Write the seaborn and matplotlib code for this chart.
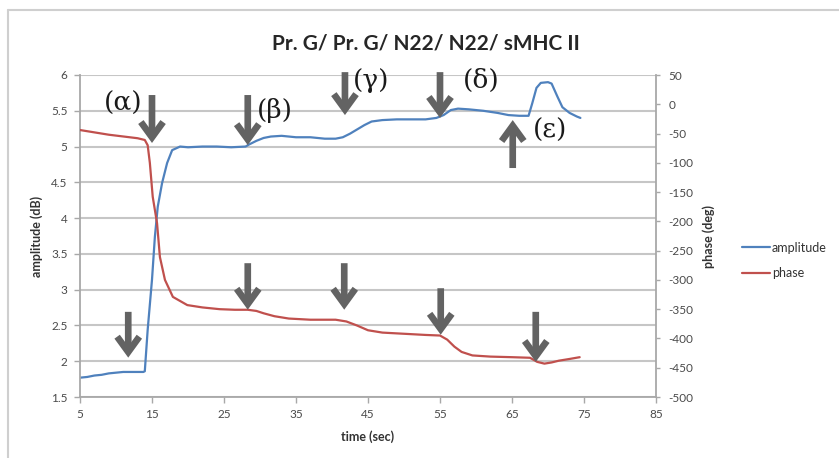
import matplotlib
matplotlib.use("Agg")
import matplotlib.pyplot as plt
from matplotlib.lines import Line2D
import seaborn as sns
import pandas as pd

# ---------------- data ----------------
title = "Pr. G/ Pr. G/ N22/ N22/ sMHC II"

time_amp = [5.0, 6.0, 7.0, 8.0, 9.0, 10.0, 11.0, 12.0, 13.0, 13.8, 14.0, 14.4, 15.0, 15.4,
            15.8, 16.4, 17.1, 17.8, 18.9, 20.0, 22.0, 24.0, 26.0, 28.0, 28.5, 29.5, 30.5,
            31.5, 33.0, 35.0, 37.0, 39.0, 40.5, 41.5, 42.5, 43.5, 44.5, 45.5, 47.0, 49.0,
            51.0, 53.0, 54.5, 55.5, 56.5, 57.5, 59.0, 61.0, 63.0, 64.5, 66.0, 67.3, 67.8,
            68.4, 69.0, 70.0, 70.5, 71.3, 72.0, 73.0, 74.0, 74.5]
amplitude = [1.77, 1.78, 1.80, 1.81, 1.83, 1.84, 1.85, 1.85, 1.85, 1.85, 1.86, 2.44, 3.14, 3.74,
             4.16, 4.49, 4.77, 4.95, 5.00, 4.99, 5.00, 5.00, 4.99, 5.00, 5.03, 5.08, 5.12,
             5.14, 5.15, 5.13, 5.13, 5.11, 5.11, 5.13, 5.18, 5.24, 5.30, 5.35, 5.37, 5.38,
             5.38, 5.38, 5.40, 5.44, 5.51, 5.53, 5.52, 5.50, 5.47, 5.44, 5.43, 5.43, 5.60,
             5.82, 5.89, 5.90, 5.88, 5.70, 5.55, 5.47, 5.42, 5.40]

time_phase = [5.0, 7.0, 9.0, 11.0, 13.0, 14.0, 14.4, 14.7, 15.1, 15.7, 16.1, 16.8, 17.9, 19.9,
              22.0, 24.4, 26.5, 28.3, 29.5, 30.5, 32.0, 34.0, 37.0, 40.5, 42.0, 43.5, 45.0,
              47.0, 50.0, 53.0, 55.0, 56.0, 57.0, 58.0, 59.5, 62.0, 65.0, 67.5, 68.5, 69.5,
              70.5, 71.5, 73.0, 74.4]
phase = [-44, -48, -52, -55, -58, -61, -70, -100, -158, -203, -261, -300, -329, -343,
         -347, -350, -351, -351, -353, -357, -362, -366, -368, -368, -371, -378, -386,
         -390, -392, -394, -395, -402, -414, -423, -429, -431, -432, -433, -440, -443,
         -441, -438, -435, -432]

x_ticks = [5, 15, 25, 35, 45, 55, 65, 75, 85]
amp_ticks = [1.5, 2, 2.5, 3, 3.5, 4, 4.5, 5, 5.5, 6]
amp_tick_labels = ["1.5", "2", "2.5", "3", "3.5", "4", "4.5", "5", "5.5", "6"]
phase_ticks = [-500, -450, -400, -350, -300, -250, -200, -150, -100, -50, 0, 50]

# arrow annotations (time, amplitude-axis units): tail -> tip
arrow_time = [15.0, 28.3, 41.8, 55.0, 65.1, 11.7, 28.3, 41.7, 55.1, 68.3]
arrow_tail = [5.72, 5.72, 6.04, 6.04, 4.70, 2.69, 3.37, 3.37, 3.02, 2.69]
arrow_tip = [5.05, 5.02, 5.44, 5.40, 5.37, 2.05, 2.72, 2.72, 2.37, 1.99]

# step labels
step_labels = ["(α)", "(β)", "(γ)", "(δ)", "(ε)"]
step_time = [11.0, 32.1, 45.4, 60.7, 70.3]
step_amp = [5.61, 5.50, 5.93, 5.92, 5.23]

# ---------------- style ----------------
sns.set_style("white")
plt.rcParams["font.family"] = ["Lato", "DejaVu Sans"]

blue = "#4F81BD"
red = "#C0504D"
grid_c = "#c6c6c6"
axis_c = "#a8a8a8"
tick_txt = "#4a4a4a"
arrow_c = "#636363"

fig = plt.figure(figsize=(8.39, 4.58), dpi=100)
ax = fig.add_axes([80 / 839, 61 / 458, 576 / 839, 322 / 458])
ax2 = ax.twinx()

df_amp = pd.DataFrame({"time": time_amp, "amplitude": amplitude})
df_ph = pd.DataFrame({"time": time_phase, "phase": phase})

sns.lineplot(data=df_amp, x="time", y="amplitude", ax=ax, color=blue, lw=1.6,
             label="amplitude", legend=False)
sns.lineplot(data=df_ph, x="time", y="phase", ax=ax2, color=red, lw=1.6,
             label="phase", legend=False)

ax.set_xlim(5, 85)
ax.set_ylim(1.5, 6)
ax2.set_ylim(-500, 50)
ax.set_xticks(x_ticks)
ax.set_xticklabels([str(v) for v in x_ticks])
ax.set_yticks(amp_ticks)
ax.set_yticklabels(amp_tick_labels)
ax2.set_yticks(phase_ticks)
ax2.set_yticklabels([str(v) for v in phase_ticks])

ax.yaxis.grid(True, color=grid_c, lw=1.5)
ax.xaxis.grid(False)
ax2.grid(False)
ax.set_axisbelow(True)

for a in (ax, ax2):
    for s in a.spines.values():
        s.set_visible(False)
ax.spines["left"].set_visible(True)
ax.spines["bottom"].set_visible(True)
ax2.spines["right"].set_visible(True)
for s in (ax.spines["left"], ax.spines["bottom"], ax2.spines["right"]):
    s.set_color(axis_c)
    s.set_linewidth(1.3)

ax.tick_params(axis="x", direction="out", length=4, width=1, color=axis_c,
               labelsize=8.5, labelcolor=tick_txt, pad=5, bottom=True)
ax.tick_params(axis="y", direction="out", length=4, width=1, color=axis_c,
               labelsize=8.5, labelcolor=tick_txt, pad=5, left=True)
ax2.tick_params(axis="y", direction="out", length=3, width=1, color=axis_c,
                labelsize=8.5, labelcolor=tick_txt, pad=6, right=True)

ax.set_xlabel("time (sec)", fontsize=9, fontweight="bold", color="#333333", labelpad=7)
ax.set_ylabel("amplitude (dB)", fontsize=9, fontweight="bold", color="#333333", labelpad=6)
ax2.set_ylabel("phase (deg)", fontsize=9, fontweight="bold", color="#333333", labelpad=6)

fig.text(426 / 839, 1 - 43 / 458, title, ha="center", va="center",
         fontsize=15, fontweight="bold", color="#262626")

# arrows
for t, y0, y1 in zip(arrow_time, arrow_tail, arrow_tip):
    ax2.annotate("", xy=(t, y1), xytext=(t, y0),
                 xycoords=ax.transData, textcoords=ax.transData,
                 arrowprops=dict(arrowstyle="->,head_length=0.55,head_width=0.4",
                                 mutation_scale=20, color=arrow_c, lw=4.8,
                                 shrinkA=0, shrinkB=0, joinstyle="miter",
                                 capstyle="butt"),
                 zorder=10)

for lab, t, y in zip(step_labels, step_time, step_amp):
    ax2.text(t, y, lab, transform=ax.transData, ha="center", va="center",
             fontsize=19, family=["DejaVu Serif"], color="#1a1a1a", zorder=11)

# legend
handles = [Line2D([0], [0], color=blue, lw=1.6), Line2D([0], [0], color=red, lw=1.6)]
fig.legend(handles, ["amplitude", "phase"], loc="center left",
           bbox_to_anchor=(742 / 839, 1 - 260.5 / 458), frameon=False,
           fontsize=9, handlelength=2.2, handletextpad=0.2, labelspacing=1.1,
           borderpad=0, borderaxespad=0, labelcolor="#333333")

# outer chart frame (left and top edges)
fig.add_artist(Line2D([8 / 839, 8 / 839], [0, 1 - 10 / 458], color="#cfcfcf", lw=1.5,
                      transform=fig.transFigure))
fig.add_artist(Line2D([8 / 839, 1], [1 - 10 / 458, 1 - 10 / 458], color="#cfcfcf", lw=1.5,
                      transform=fig.transFigure))

fig.savefig("out.png", dpi=100)
